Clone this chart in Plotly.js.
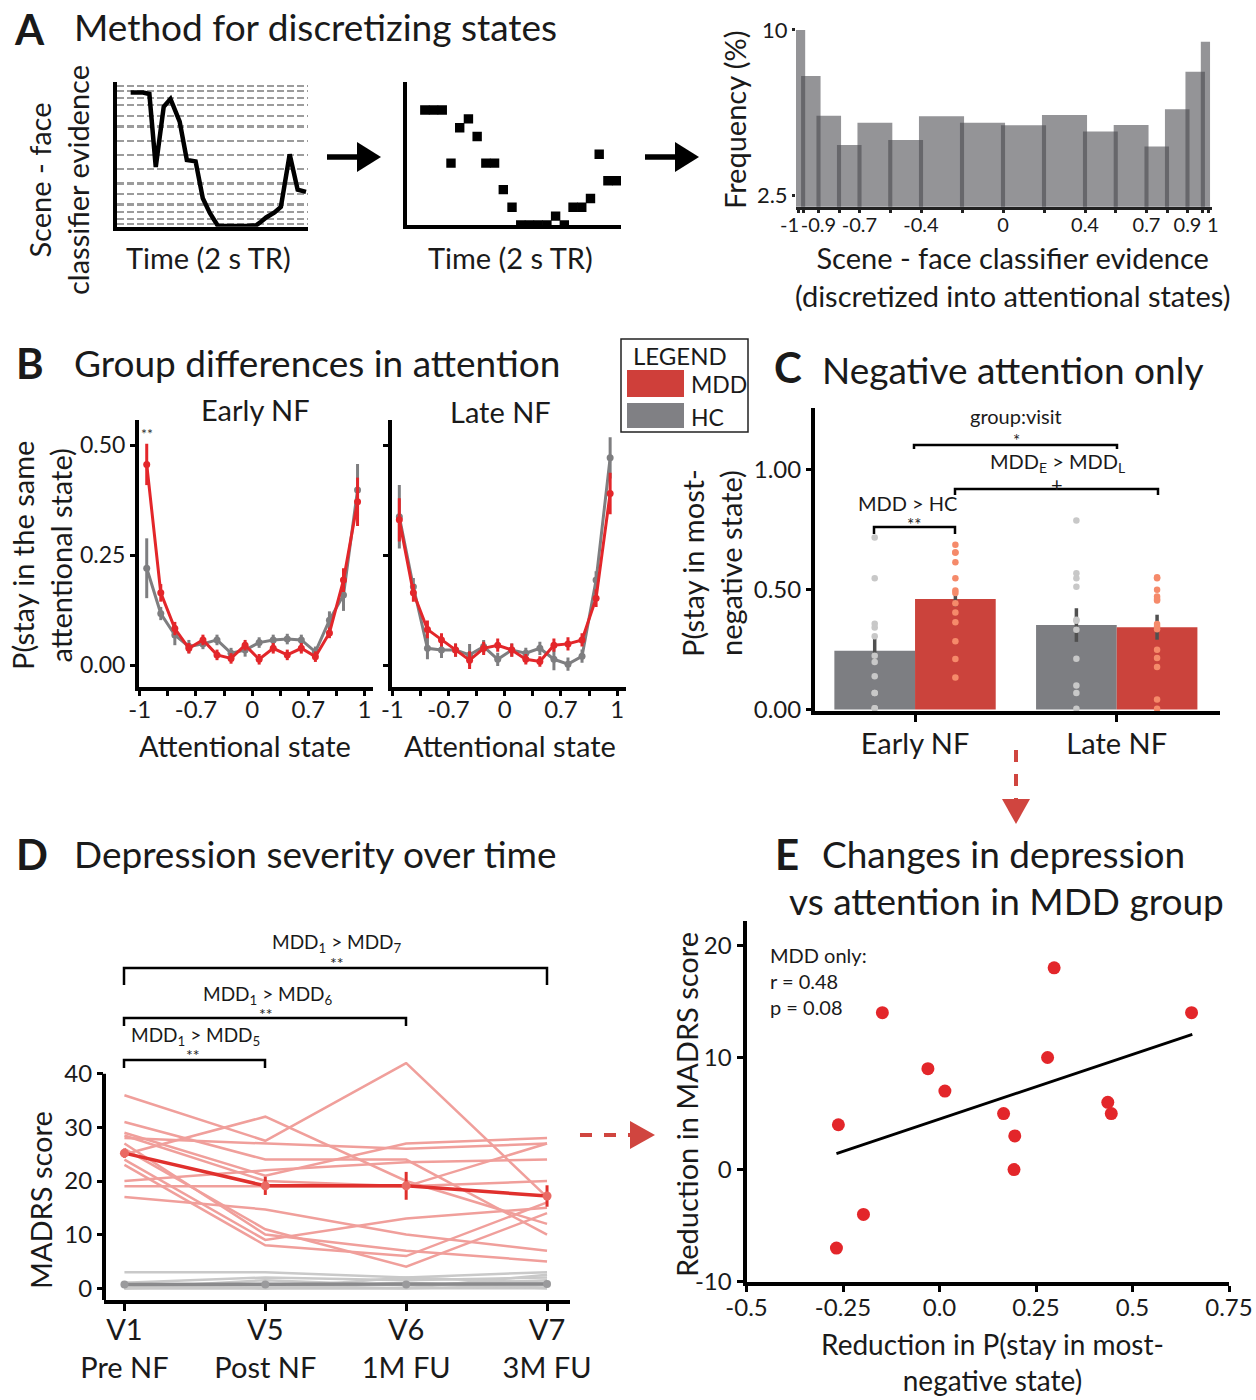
<!DOCTYPE html>
<html><head><meta charset="utf-8">
<script src="https://cdn.plot.ly/plotly-3.0.1.min.js"></script>
<style>body{margin:0;background:#fff}#chart{width:1256px;height:1400px}</style>
</head><body><div id="chart"></div>
<script>
// ---------------- DATA ----------------
// Panel A: raw classifier evidence (illustration)
const evidenceTime  = [1.75,3.3,4.1,4.9,5.9,6.75,7.9,8.8,9.9,10.8,11.7,12.7,16.25,17.5,18.1,18.75,19.8,20.6,21.7,22.7,23.75];
const evidenceValue = [0.88,0.88,0.86,-0.17,0.68,0.79,0.47,-0.07,-0.09,-0.61,-0.82,-1.0,-1.0,-0.99,-0.94,-0.88,-0.81,-0.73,0.01,-0.49,-0.52];
// Panel A: discretized states per TR
const trIndex       = [0,1,2,3,4,5,6,7,8,9,10,11,12,13,14,15,16,17,18,19,20,21,22];
const discreteState = [13,13,13,7,11,12,10,7,7,4,2,0,0,0,0,1,0,2,2,3,8,5,5];
// Panel A: histogram of attentional states
const binEdges = [-1,-0.975,-0.9,-0.8,-0.7,-0.55,-0.4,-0.2,0,0.2,0.4,0.55,0.7,0.8,0.9,0.975,1];
const binFreq  = [10.0,7.92,6.12,4.79,5.80,5.02,6.09,5.80,5.69,6.15,5.41,5.70,4.72,6.41,8.11,9.47];
const histInnerVals = [-0.9,-0.7,-0.4,0,0.4,0.7,0.9];
const histInnerText = ['-0.9','-0.7','-0.4','0','0.4','0.7','0.9'];
const histEndVals = [-1,1];
const histEndText = ['-1','1'];

// Panel B: P(stay in same state) by attentional state
const stateIdx = [0,1,2,3,4,5,6,7,8,9,10,11,12,13,14,15];
const stateLabelVals = [-0.5,3.5,7.5,11.5,15.5];
const stateLabelText = ['-1','-0.7','0','0.7','1'];
const stateMinorVals = [1.5,5.5,9.5,13.5];
const earlyMDD    = [0.456,0.164,0.083,0.038,0.057,0.023,0.015,0.045,0.013,0.038,0.023,0.038,0.019,0.073,0.193,0.371];
const earlyMDDerr = [0.047,0.020,0.015,0.012,0.012,0.012,0.012,0.012,0.012,0.012,0.012,0.012,0.012,0.012,0.027,0.055];
const earlyHC     = [0.220,0.117,0.068,0.042,0.048,0.057,0.027,0.034,0.051,0.057,0.059,0.057,0.030,0.102,0.159,0.398];
const earlyHCerr  = [0.068,0.015,0.023,0.015,0.012,0.012,0.012,0.015,0.012,0.012,0.012,0.012,0.012,0.020,0.036,0.059];
const lateMDD     = [0.330,0.164,0.081,0.057,0.034,0.011,0.038,0.045,0.034,0.013,0.008,0.045,0.048,0.057,0.152,0.390];
const lateMDDerr  = [0.049,0.020,0.020,0.015,0.015,0.020,0.015,0.015,0.015,0.012,0.012,0.015,0.015,0.015,0.020,0.047];
const lateHC      = [0.337,0.178,0.038,0.034,0.034,0.023,0.042,0.013,0.034,0.027,0.038,0.013,0.002,0.020,0.193,0.471];
const lateHCerr   = [0.072,0.020,0.025,0.018,0.015,0.025,0.015,0.015,0.015,0.012,0.015,0.025,0.015,0.015,0.020,0.047];

// Panel C: stay in most-negative state
const phaseLabels = ['Early NF','Late NF'];
const phasePos    = [0,1];
const hcBar   = [0.245,0.352];
const hcBarErr  = [0.059,0.070];
const mddBar  = [0.460,0.343];
const mddBarErr = [0.030,0.052];
const hcEarlyPts  = [0.717,0.547,0.357,0.342,0.305,0.224,0.198,0.139,0.069,0.069,0.005,0.005];
const mddEarlyPts = [0.686,0.654,0.654,0.614,0.547,0.496,0.485,0.443,0.404,0.364,0.284,0.211,0.134];
const hcLatePts   = [0.787,0.568,0.547,0.512,0.374,0.370,0.332,0.212,0.100,0.069,0.003];
const mddLatePts  = [0.551,0.547,0.499,0.471,0.460,0.454,0.356,0.346,0.335,0.249,0.215,0.177,0.042,0.003];

// Panel D: MADRS over visits
const visitPos = [0,1,2,3];
const visitLabels = ['V1<br>Pre NF','V5<br>Post NF','V6<br>1M FU','V7<br>3M FU'];
const mddMadrs = [
  [36,27.5,42,17],[25,32,20,12],[31,24,24,10],[29,21,27,28],[28,27,26,27],
  [19,19,19,20],[20,22,23.5,24],[17,14.7,10,7],[24,9,13,15],[27,10,7,5],
  [23,8,6,16],[26,11,4,14],[28.5,20,19,27]
];
const hcMadrs = [[3,3,2,3],[1,2,1.5,2],[0,1.5,0.5,1.5],[1,0,2,1],[0,0.5,0,2.5],[0.5,0,0,0],[0,0,1,0],[0,0,0,0.5]];
const mddMeanMadrs = [25.2,19.1,19.1,17.2];
const mddMeanErr   = [0.85,1.7,2.6,2.0];
const hcMeanMadrs  = [0.7,0.7,0.7,0.8];

// Panel E: change scatter
const attnReduction  = [0.297,-0.148,0.653,0.280,-0.030,0.014,0.166,0.436,0.445,-0.262,0.195,0.193,-0.197,-0.267];
const madrsReduction = [18,14,14,10,9,7,5,6,5,4,3,0,-4,-7];
const fitX = [-0.267,0.655];
const fitY = [1.43,12.06];

// ---------------- LAYOUT HELPERS ----------------
const W = 1256, H = 1400;
const px = x => x / W, py = y => 1 - y / H;
const FONT = 'Lato, "Open Sans", sans-serif';
const TXT = '#1a1a1a';
const RED = '#e3262a', GREY = '#7e7e80';

function ax(o) {
  return Object.assign({
    showgrid:false, zeroline:false, showline:true, linecolor:'#000', linewidth:4,
    ticks:'outside', tickcolor:'#000', tickwidth:3, ticklen:6, tickangle:0,
    tickfont:{family:FONT, size:24, color:TXT}, fixedrange:true
  }, o);
}
function ann(text, x, y, size, o) {
  return Object.assign({
    text:text, x:px(x), y:py(y), xref:'paper', yref:'paper', showarrow:false,
    xanchor:'center', yanchor:'middle', font:{family:FONT, size:size, color:TXT}
  }, o || {});
}
function pathPx(points, close) {
  let s = points.map((p,i) => (i ? 'L' : 'M') + px(p[0]).toFixed(5) + ',' + py(p[1]).toFixed(5)).join(' ');
  return close ? s + ' Z' : s;
}
function pShape(points, close, color, width, fill, dash) {
  return {type:'path', xref:'paper', yref:'paper', path:pathPx(points, close),
    line:{color:color, width:width, dash:dash || 'solid'}, fillcolor: fill || 'rgba(0,0,0,0)'};
}
function rectShape(x0,y0,x1,y1,fill,lineColor,lw){
  return {type:'rect', xref:'paper', yref:'paper', x0:px(x0), x1:px(x1), y0:py(y1), y1:py(y0),
    fillcolor:fill, line:{color:lineColor||'rgba(0,0,0,0)', width:lw||0}};
}

// ---------------- TRACES ----------------
const traces = [];
// A1
traces.push({type:'scatter', mode:'lines', x:evidenceTime, y:evidenceValue, xaxis:'x', yaxis:'y',
  line:{color:'#000', width:4.5}, hoverinfo:'skip'});
// A2
traces.push({type:'scatter', mode:'markers', x:trIndex, y:discreteState, xaxis:'x2', yaxis:'y2',
  marker:{symbol:'square', size:9.4, color:'#000', line:{width:0}}, hoverinfo:'skip'});
// A3 histogram (variable-width bins, slightly overlapping translucent bars)
const binCenters = binFreq.map((_,i) => (binEdges[i] + binEdges[i+1]) / 2);
const binWidths  = binFreq.map((_,i) => (binEdges[i+1] - binEdges[i]) + 0.02);
traces.push({type:'bar', x:binCenters, y:binFreq, width:binWidths, xaxis:'x3', yaxis:'y3',
  marker:{color:'rgba(70,70,75,0.58)', line:{width:0}}, hoverinfo:'skip'});

// B
function lineTrace(y, err, color, xa, ya) {
  return {type:'scatter', mode:'lines+markers', x:stateIdx, y:y, xaxis:xa, yaxis:ya,
    line:{color:color, width:3}, marker:{color:color, size:7},
    error_y:{type:'data', array:err, visible:true, color:color, thickness:3, width:0}, hoverinfo:'skip'};
}
traces.push(lineTrace(earlyHC, earlyHCerr, GREY, 'x4', 'y4'));
traces.push(lineTrace(earlyMDD, earlyMDDerr, RED, 'x4', 'y4'));
traces.push(lineTrace(lateHC, lateHCerr, GREY, 'x5', 'y5'));
traces.push(lineTrace(lateMDD, lateMDDerr, RED, 'x5', 'y5'));

// C bars
const hcX  = phasePos.map(p => p - 0.2);
const mddX = phasePos.map(p => p + 0.2);
traces.push({type:'bar', x:hcX, y:hcBar, width:0.4, xaxis:'x6', yaxis:'y6',
  marker:{color:'#7d7e82', line:{width:0}},
  error_y:{type:'data', array:hcBarErr, visible:true, color:'#505050', thickness:3.5, width:0}, hoverinfo:'skip'});
traces.push({type:'bar', x:mddX, y:mddBar, width:0.4, xaxis:'x6', yaxis:'y6',
  marker:{color:'#cb433c', line:{width:0}},
  error_y:{type:'data', array:mddBarErr, visible:true, color:'#505050', thickness:3.5, width:0}, hoverinfo:'skip'});
function dots(vals, xpos, color) {
  return {type:'scatter', mode:'markers', x:vals.map(() => xpos), y:vals, xaxis:'x6', yaxis:'y6',
    marker:{color:color, size:6.5, line:{width:0}}, hoverinfo:'skip', cliponaxis:false};
}
traces.push(dots(hcEarlyPts, hcX[0], '#c8c8c8'));
traces.push(dots(mddEarlyPts, mddX[0], '#f58a6a'));
traces.push(dots(hcLatePts, hcX[1], '#c8c8c8'));
traces.push(dots(mddLatePts, mddX[1], '#f58a6a'));

// D
hcMadrs.forEach(s => traces.push({type:'scatter', mode:'lines', x:visitPos, y:s, xaxis:'x7', yaxis:'y7',
  line:{color:'#c9c9c9', width:2.5}, hoverinfo:'skip'}));
mddMadrs.forEach(s => traces.push({type:'scatter', mode:'lines', x:visitPos, y:s, xaxis:'x7', yaxis:'y7',
  line:{color:'#f09f9b', width:2.5}, hoverinfo:'skip'}));
traces.push({type:'scatter', mode:'lines+markers', x:visitPos, y:hcMeanMadrs, xaxis:'x7', yaxis:'y7',
  line:{color:'#8a8a8c', width:3.5}, marker:{color:'#9a9a9c', size:8}, hoverinfo:'skip'});
traces.push({type:'scatter', mode:'lines+markers', x:visitPos, y:mddMeanMadrs, xaxis:'x7', yaxis:'y7',
  line:{color:'#e0302d', width:3.5}, marker:{color:'#ea6a64', size:9},
  error_y:{type:'data', array:mddMeanErr, visible:true, color:'#e0302d', thickness:3, width:0}, hoverinfo:'skip'});

// E
traces.push({type:'scatter', mode:'lines', x:fitX, y:fitY, xaxis:'x8', yaxis:'y8',
  line:{color:'#000', width:2.8}, hoverinfo:'skip'});
traces.push({type:'scatter', mode:'markers', x:attnReduction, y:madrsReduction, xaxis:'x8', yaxis:'y8',
  marker:{color:RED, size:13, line:{width:0}}, hoverinfo:'skip', cliponaxis:false});

// ---------------- AXES ----------------
const bMinor = {tickmode:'array', tickvals:stateMinorVals, ticks:'outside', ticklen:5, tickwidth:3, tickcolor:'#000'};
const layout = {
  width:W, height:H, margin:{l:0,r:0,t:0,b:0}, paper_bgcolor:'#fff', plot_bgcolor:'rgba(0,0,0,0)',
  showlegend:false, barmode:'overlay', font:{family:FONT, color:TXT},
  // A1
  xaxis: ax({domain:[px(116.7),px(308)], range:[0,24], anchor:'y', ticks:'', showticklabels:false}),
  yaxis: ax({domain:[py(226.7),py(82)], range:[-1.01,1.028], anchor:'x', ticks:'', showticklabels:false,
    showgrid:true, tickvals:binEdges.slice(1,-1), gridcolor:'#9c9c9c', gridwidth:2.4, griddash:'7px,3px'}),
  // A2
  xaxis2: ax({domain:[px(406.7),px(621)], range:[-2.08,22.5], anchor:'y2', ticks:'', showticklabels:false}),
  yaxis2: ax({domain:[py(225),py(81.7)], range:[0,16.2], anchor:'x2', ticks:'', showticklabels:false}),
  // A3
  xaxis3: ax({domain:[px(796),px(1212)], range:[-1.0098,1.0195], anchor:'y3', linewidth:3, linecolor:'#222',
    tickvals:histInnerVals, ticktext:histInnerText, ticklen:3, tickwidth:3, tickcolor:'#222',
    tickfont:{family:FONT, size:20, color:TXT}, ticklabelstandoff:-5,
    minor:{tickmode:'array', tickvals:binEdges, ticks:'outside', ticklen:3, tickwidth:3, tickcolor:'#222'}}),
  yaxis3: ax({domain:[py(206.7),py(28)], range:[2.0,10.09], anchor:'x3', showline:false,
    tickvals:[2.5,10], ticktext:['2.5','10'], ticklen:3, tickwidth:3, tickcolor:'#222',
    tickfont:{family:FONT, size:22, color:TXT}}),
  // B1
  xaxis4: ax({domain:[px(139),px(373)], range:[-0.55,16.1], anchor:'y4', tickvals:stateLabelVals, ticktext:stateLabelText,
    ticklen:5, ticklabelstandoff:-7, minor:bMinor}),
  yaxis4: ax({domain:[py(687),py(420)], range:[-0.05,0.557], anchor:'x4', tickvals:[0,0.25,0.5], ticktext:['0.00','0.25','0.50'],
    ticklen:5, tickfont:{family:FONT, size:23, color:TXT}}),
  // B2
  xaxis5: ax({domain:[px(391.6),px(625.6)], range:[-0.55,16.1], anchor:'y5', tickvals:stateLabelVals, ticktext:stateLabelText,
    ticklen:5, ticklabelstandoff:-7, minor:bMinor}),
  yaxis5: ax({domain:[py(687),py(420)], range:[-0.05,0.557], anchor:'x5', tickvals:[0,0.25,0.5], showticklabels:false, ticklen:5}),
  // C
  xaxis6: ax({domain:[px(815),px(1220)], range:[-0.496,1.512], anchor:'y6', tickvals:phasePos, ticktext:phaseLabels,
    ticklen:7, tickfont:{family:FONT, size:29, color:TXT}, ticklabelstandoff:-3}),
  yaxis6: ax({domain:[py(711),py(408)], range:[-0.006,1.256], anchor:'x6', tickvals:[0,0.5,1], ticktext:['0.00','0.50','1.00'], ticklen:5}),
  // D
  xaxis7: ax({domain:[px(104),px(570)], range:[-0.145,3.163], anchor:'y7', tickvals:visitPos, ticktext:visitLabels,
    ticklen:7, tickfont:{family:FONT, size:29, color:TXT}, ticklabelstandoff:-6}),
  yaxis7: ax({domain:[py(1300),py(1062)], range:[-2.2,42.2], anchor:'x7', showline:false,
    tickvals:[0,10,20,30,40], ticklen:6}),
  // E
  xaxis8: ax({domain:[px(746.5),px(1229)], range:[-0.5,0.75], anchor:'y8',
    tickvals:[-0.5,-0.25,0,0.25,0.5,0.75], ticktext:['-0.5','-0.25','0.0','0.25','0.5','0.75'], ticklen:6, ticklabelstandoff:-5}),
  yaxis8: ax({domain:[py(1281.7),py(920.7)], range:[-10,22.2], anchor:'x8',
    tickvals:[-10,0,10,20], ticktext:['-10','0','10','20'], ticklen:6})
};

// ---------------- SHAPES ----------------
const shapes = [];
// arrows in A
shapes.push(pShape([[327,157],[359,157]], false, '#000', 5.5));
shapes.push(pShape([[357,142],[381,157],[357,172]], true, '#000', 0, '#000'));
shapes.push(pShape([[645,157],[677,157]], false, '#000', 5.5));
shapes.push(pShape([[675,142],[699,157],[675,172]], true, '#000', 0, '#000'));
// legend box
shapes.push(rectShape(621,339,748,432,'rgba(0,0,0,0)','#222',1.5));
shapes.push(rectShape(627,370,684,397,'#cf3f3a'));
shapes.push(rectShape(627,403,684,428,'#808084'));
// C brackets
shapes.push(pShape([[914,449],[914,445],[1117,445],[1117,449]], false, '#000', 2.5));
shapes.push(pShape([[955,495],[955,489],[1158,489],[1158,495]], false, '#000', 2.5));
shapes.push(pShape([[874,534],[874,527],[955,527],[955,534]], false, '#000', 2.5));
// D y-axis line (stops at 40)
shapes.push({type:'line', xref:'paper', yref:'y7', x0:px(104), x1:px(104), y0:-2.2, y1:40, line:{color:'#000', width:4}});
// D brackets
shapes.push(pShape([[124,985],[124,968],[547,968],[547,985]], false, '#000', 2.5));
shapes.push(pShape([[124,1026],[124,1018],[406,1018],[406,1026]], false, '#000', 2.5));
shapes.push(pShape([[124,1068],[124,1060],[265,1060],[265,1068]], false, '#000', 2.5));
// dashed red arrows
shapes.push(pShape([[1016,750],[1016,800]], false, '#d0453f', 4, null, 'dash'));
shapes.push(pShape([[1002,799],[1030,799],[1016,824]], true, '#d0453f', 0, '#d0453f'));
shapes.push(pShape([[580,1135],[631,1135]], false, '#d0453f', 4, null, 'dash'));
shapes.push(pShape([[630,1121],[630,1149],[655,1135]], true, '#d0453f', 0, '#d0453f'));
layout.shapes = shapes;

// ---------------- ANNOTATIONS ----------------
const A = [];
const TS = 37, LS = 42;
const STAR = {family:FONT, size:17, color:'#222'};
// section titles
A.push(ann('<b>A</b>', 12, 29, LS, {xanchor:'left'}));
A.push(ann('Method for discretizing states', 72, 27, TS, {xanchor:'left'}));
A.push(ann('<b>B</b>', 14, 363, LS, {xanchor:'left'}));
A.push(ann('Group differences in attention', 72, 362, TS, {xanchor:'left'}));
A.push(ann('<b>C</b>', 772, 367, LS, {xanchor:'left'}));
A.push(ann('Negative attention only', 820, 370, TS, {xanchor:'left'}));
A.push(ann('<b>D</b>', 14, 854, LS, {xanchor:'left'}));
A.push(ann('Depression severity over time', 72, 853, TS, {xanchor:'left'}));
A.push(ann('<b>E</b>', 773, 854, LS, {xanchor:'left'}));
A.push(ann('Changes in depression', 820, 853, TS, {xanchor:'left'}));
A.push(ann('vs attention in MDD group', 787, 900, TS, {xanchor:'left'}));
// A axis titles
A.push(ann('Scene - face<br>classifier evidence', 59, 180, 29, {textangle:-90}));
A.push(ann('Time (2 s TR)', 208, 257, 29));
A.push(ann('Time (2 s TR)', 510, 257, 29));
A.push(ann('Frequency (%)', 735, 119, 29, {textangle:-90}));
A.push(ann('Scene - face classifier evidence<br>(discretized into attentional states)', 1012, 276, 29));
// histogram end labels (-1 and 1), anchored outward from their ticks
histEndVals.forEach((v,i) => A.push({text:histEndText[i], x:v, xref:'x3', y:py(224), yref:'paper', showarrow:false,
  xanchor: v < 0 ? 'right' : 'left', xshift: v < 0 ? 3 : -3, yanchor:'middle', font:{family:FONT, size:20, color:TXT}}));
// B
A.push(ann('Early NF', 255, 409, 29));
A.push(ann('Late NF', 500, 411, 29));
A.push(ann('Attentional state', 245, 746, 29));
A.push(ann('Attentional state', 510, 746, 29));
A.push(ann('P(stay in the same<br>attentional state)', 41, 556, 29, {textangle:-90}));
A.push(ann('**', 147, 433, 14, {font:{family:FONT, size:14, color:'#333'}}));
// legend
A.push(ann('LEGEND', 680, 355, 24));
A.push(ann('MDD', 689, 384, 23, {xanchor:'left'}));
A.push(ann('HC', 689, 417, 23, {xanchor:'left'}));
// C
A.push(ann('P(stay in most-<br>negative state)', 711, 563, 29, {textangle:-90}));
A.push(ann('group:visit', 1016, 416, 20));
A.push(ann('*', 1016, 441, 17, {font:STAR}));
A.push(ann('MDD<sub>E</sub> &gt; MDD<sub>L</sub>', 1057, 462, 20));
A.push(ann('+', 1057, 484, 20));
A.push(ann('MDD &gt; HC', 908, 503, 20));
A.push(ann('**', 914, 524, 17, {font:STAR}));
// D
A.push(ann('MADRS score', 40, 1200, 29, {textangle:-90}));
A.push(ann('MDD<sub>1</sub> &gt; MDD<sub>7</sub>', 337, 943, 19));
A.push(ann('**', 337, 962, 16, {font:{family:FONT, size:16, color:'#222'}}));
A.push(ann('MDD<sub>1</sub> &gt; MDD<sub>6</sub>', 268, 995, 19));
A.push(ann('**', 266, 1013, 16, {font:{family:FONT, size:16, color:'#222'}}));
A.push(ann('MDD<sub>1</sub> &gt; MDD<sub>5</sub>', 195, 1036, 19));
A.push(ann('**', 193, 1054, 16, {font:{family:FONT, size:16, color:'#222'}}));
// E
A.push(ann('Reduction in MADRS score', 686, 1105, 29, {textangle:-90}));
A.push(ann('Reduction in P(stay in most-<br>negative state)', 992, 1362, 28));
A.push(ann('MDD only:<br>r = 0.48<br>p = 0.08', 768, 981, 20, {xanchor:'left', align:'left'}));
layout.annotations = A;

Plotly.newPlot('chart', traces, layout, {staticPlot:true, displayModeBar:false});
</script>
</body></html>
